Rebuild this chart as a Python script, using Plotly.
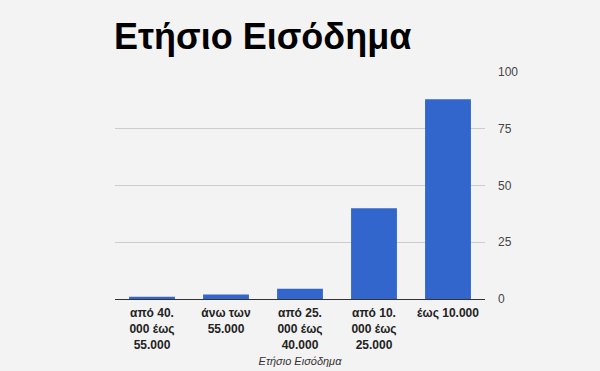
import plotly.graph_objects as go

categories = ["από 40.<br>000 έως<br>55.000", "άνω των<br>55.000", "από 25.<br>000 έως<br>40.000",
              "από 10.<br>000 έως<br>25.000", "έως 10.000"]
values = [1, 2, 4.5, 40, 88]
tick_vals = [0, 25, 50, 75, 100]

bg = "#f3f3f3"
fig = go.Figure(go.Bar(x=categories, y=values, marker_color="#3366cc", marker_line_width=0))
fig.update_layout(
    width=600, height=371,
    paper_bgcolor=bg, plot_bgcolor=bg,
    margin=dict(l=115, r=115, t=72, b=72),
    bargap=0.38,
    showlegend=False,
    title=dict(text="<b>Ετήσιο Εισόδημα</b>", x=114/600, xref="container", xanchor="left",
               y=1-36/371, yref="container", yanchor="middle",
               font=dict(family="Liberation Sans, Arial", size=36, color="#000000")),
    font=dict(family="Liberation Sans, Arial"),
)
fig.update_xaxes(
    showgrid=False, showline=True, linecolor="#333333", linewidth=1,
    tickfont=dict(size=12, color="#222222", family="Liberation Sans, Arial"),
    ticks="", ticklabelstandoff=3, automargin=False,
    title=dict(text="<i>Ετήσιο Εισόδημα</i>", font=dict(size=11, color="#333333"), standoff=6),
    tickprefix="<b>", ticksuffix="</b>",
)
fig.update_yaxes(
    side="right", range=[0, 100], tickvals=tick_vals, automargin=False,
    gridcolor="#cccccc", gridwidth=1, zeroline=False,
    tickfont=dict(size=12, color="#444444"), ticklabelstandoff=12,
)
fig.write_html("out.html", config={"displayModeBar": False},
               post_script="document.body.style.margin='0';document.body.style.background='#f3f3f3';")
